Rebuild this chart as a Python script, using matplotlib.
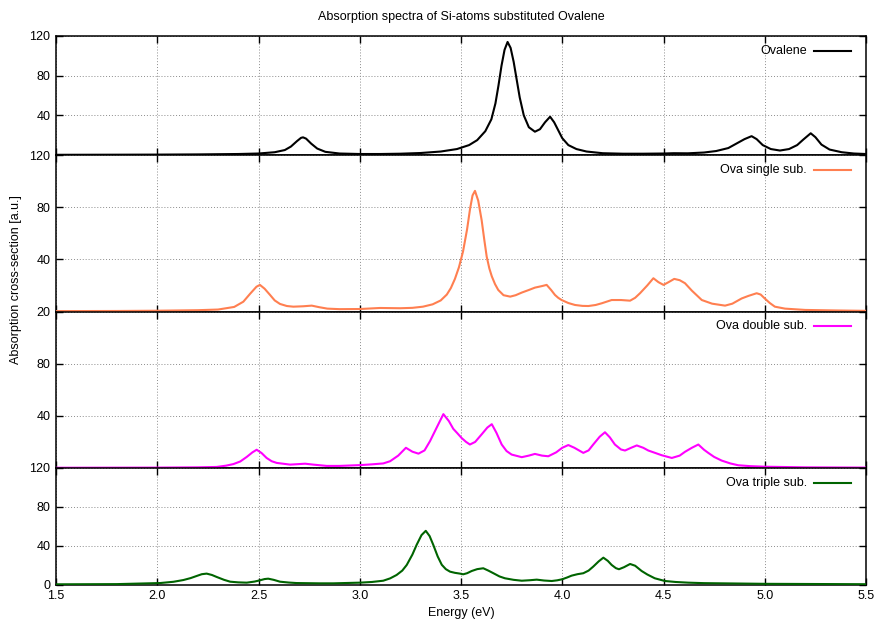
import matplotlib.pyplot as plt
from matplotlib.transforms import offset_copy

plt.rcParams['font.family'] = ['Liberation Sans', 'DejaVu Sans']
plt.rcParams['font.size'] = 9

# Ovalene
energy_ova = [1.50, 1.80, 2.00, 2.20, 2.40, 2.50, 2.58, 2.63, 2.66, 2.69, 2.71, 2.72, 2.735, 2.76,
              2.79, 2.83, 2.90, 3.00, 3.10, 3.20, 3.30, 3.40, 3.48, 3.54, 3.58, 3.62, 3.65, 3.67,
              3.685, 3.70, 3.715, 3.73, 3.745, 3.76, 3.775, 3.79, 3.81, 3.835, 3.865, 3.89, 3.915,
              3.94, 3.96, 3.98, 4.00, 4.03, 4.07, 4.12, 4.20, 4.30, 4.40, 4.50, 4.55, 4.62, 4.70,
              4.76, 4.82, 4.86, 4.90, 4.935, 4.96, 4.99, 5.03, 5.075, 5.12, 5.16, 5.19, 5.227,
              5.25, 5.28, 5.32, 5.38, 5.44, 5.50]
absorb_ova = [0.2, 0.3, 0.4, 0.6, 1.0, 1.5, 2.8, 5.0, 8.5, 14.0, 17.3, 17.8, 16.5, 11.5,
              6.5, 3.2, 1.5, 1.0, 1.0, 1.3, 2.0, 3.5, 6.0, 10, 15, 24, 36, 52,
              70, 90, 106, 114, 108, 94, 76, 58, 40, 28, 23.5, 26, 33,
              38.6, 33, 25, 17, 10, 6, 3.5, 1.8, 1.3, 1.3, 1.5, 1.8, 1.7, 2.5,
              4, 7, 11.5, 16, 19, 16, 10, 6, 4.5, 6, 10, 15.5, 21.9,
              18, 10.5, 5.5, 2.8, 1.5, 1.0]

# single substitution
energy_single = [1.50, 1.80, 2.00, 2.20, 2.30, 2.38, 2.425, 2.458, 2.49, 2.507, 2.53, 2.557, 2.58,
                 2.606, 2.64, 2.672, 2.72, 2.763, 2.80, 2.84, 2.90, 3.00, 3.05, 3.10, 3.15, 3.20,
                 3.26, 3.312, 3.36, 3.40, 3.43, 3.45, 3.47, 3.49, 3.51, 3.53, 3.545, 3.557, 3.569,
                 3.585, 3.602, 3.615, 3.627, 3.64, 3.652, 3.668, 3.684, 3.71, 3.743, 3.77, 3.80,
                 3.835, 3.865, 3.90, 3.923, 3.945, 3.964, 3.98, 3.997, 4.03, 4.063, 4.10, 4.129,
                 4.165, 4.195, 4.244, 4.29, 4.335, 4.36, 4.384, 4.42, 4.45, 4.475, 4.50, 4.525,
                 4.553, 4.58, 4.606, 4.64, 4.689, 4.74, 4.804, 4.84, 4.886, 4.92, 4.96, 4.98,
                 5.00, 5.025, 5.05, 5.10, 5.20, 5.35, 5.50]
absorb_single = [0.3, 0.4, 0.6, 1.0, 1.5, 3.5, 7.5, 13.5, 19, 20.4, 17.5, 12.7, 8.5,
                 5.8, 4.2, 3.7, 4.0, 4.5, 3.3, 2.2, 1.8, 1.9, 2.3, 2.7, 2.6, 2.5,
                 2.8, 3.7, 5.5, 8.5, 13, 18, 25, 34, 46, 63, 79, 89, 92.5,
                 85, 70, 55, 42, 33, 27, 21, 16.5, 12.5, 11.4, 12.5, 14.5,
                 16.5, 18.3, 19.5, 20.4, 16.5, 12.7, 10.5, 8.8, 6.5, 5.0, 4.3, 4.2,
                 5, 6.3, 8.8, 8.8, 8.3, 10.5, 14, 20, 25.5, 22.5, 20.4, 22.5,
                 25, 24, 21.7, 16, 8.8, 6, 4.5, 6, 10, 12, 14, 13,
                 10, 6.5, 3.7, 2.2, 1.2, 0.8, 0.5]

# double substitution
energy_double = [1.50, 2.00, 2.20, 2.293, 2.34, 2.376, 2.41, 2.442, 2.47, 2.491, 2.515, 2.54, 2.565,
                 2.59, 2.656, 2.70, 2.73, 2.77, 2.837, 2.90, 3.00, 3.06, 3.116, 3.15, 3.19, 3.228,
                 3.26, 3.29, 3.32, 3.347, 3.38, 3.413, 3.44, 3.462, 3.48, 3.503, 3.525, 3.544, 3.57,
                 3.602, 3.63, 3.652, 3.675, 3.701, 3.725, 3.75, 3.80, 3.835, 3.865, 3.90, 3.931,
                 3.97, 4.00, 4.03, 4.06, 4.104, 4.13, 4.153, 4.185, 4.211, 4.235, 4.26, 4.29, 4.31,
                 4.34, 4.368, 4.40, 4.425, 4.46, 4.491, 4.541, 4.58, 4.606, 4.64, 4.672, 4.70,
                 4.721, 4.75, 4.787, 4.83, 4.869, 4.93, 5.00, 5.20, 5.50]
absorb_double = [0.2, 0.3, 0.5, 0.8, 1.8, 3, 5, 8.5, 12, 14, 11.5, 7.7, 5.2,
                 3.9, 2.6, 3.0, 3.3, 2.6, 1.6, 1.6, 2.2, 2.8, 3.5, 5.2, 9.5, 15.5,
                 12.5, 11.0, 13.5, 20.6, 31, 41.3, 36, 30, 27, 23, 20, 18, 20,
                 25.8, 31, 33.6, 27, 18, 13, 10.3, 8.3, 9.5, 10.8, 9.5, 9,
                 12, 15.5, 17.6, 15.5, 11.6, 13.5, 18, 24, 27.4, 23.5, 18, 14.2, 13.4,
                 15.5, 17.3, 15.5, 13.4, 11.5, 9.8, 7.7, 9.5, 12.4, 15.5, 18, 14,
                 11.6, 8.5, 5.7, 3.5, 2.1, 1.4, 1.0, 0.5, 0.3]

# triple substitution
energy_triple = [1.50, 1.80, 2.014, 2.08, 2.129, 2.165, 2.195, 2.22, 2.244, 2.27, 2.293, 2.33, 2.36,
                 2.40, 2.442, 2.48, 2.507, 2.53, 2.548, 2.575, 2.606, 2.65, 2.688, 2.80, 2.869,
                 3.00, 3.06, 3.116, 3.15, 3.182, 3.21, 3.232, 3.26, 3.281, 3.305, 3.326, 3.345,
                 3.363, 3.385, 3.405, 3.425, 3.446, 3.47, 3.495, 3.511, 3.53, 3.553, 3.58, 3.61,
                 3.635, 3.66, 3.69, 3.717, 3.76, 3.80, 3.84, 3.874, 3.91, 3.948, 3.975, 4.00,
                 4.025, 4.046, 4.075, 4.104, 4.13, 4.153, 4.18, 4.203, 4.225, 4.244, 4.265, 4.28,
                 4.305, 4.335, 4.36, 4.392, 4.42, 4.457, 4.507, 4.56, 4.622, 4.70, 4.787, 5.00, 5.50]
absorb_triple = [0.4, 0.6, 1.7, 3.0, 4.8, 6.8, 9, 10.8, 11.4, 10, 8, 5, 3.1,
                 2.4, 2.1, 3.2, 4.5, 5.8, 6.2, 5, 3.1, 2.2, 1.7, 1.4, 1.4,
                 2.1, 2.8, 4.1, 6.5, 10, 14.5, 20.3, 31, 41, 51, 55.4, 50,
                 41, 29, 20.5, 16, 13.4, 12.2, 11.4, 10.7, 11.8, 14.1, 16, 16.9,
                 14.5, 11.8, 8.5, 6.6, 5, 4.1, 4.6, 5.2, 4.3, 3.8, 4.5, 5.6,
                 7.5, 9.3, 10.8, 11.8, 14.5, 18.6, 24, 27.8, 24.5, 20.3, 17, 15.9,
                 18, 21.3, 19.5, 14.1, 10.5, 6.6, 3.8, 2.8, 2.1, 1.6, 1.4, 0.9, 0.5]

energies = [energy_ova, energy_single, energy_double, energy_triple]
spectra = [absorb_ova, absorb_single, absorb_double, absorb_triple]
names = ['Ovalene', 'Ova single sub.', 'Ova double sub.', 'Ova triple sub.']
colors = ['black', '#ff7f50', '#ff00ff', '#006400']

xticks = [1.5, 2.0, 2.5, 3.0, 3.5, 4.0, 4.5, 5.0, 5.5]
xtick_labels = ['1.5', '2.0', '2.5', '3.0', '3.5', '4.0', '4.5', '5.0', '5.5']
yticks = [0, 40, 80, 120]
ytick_labels = [['', '40', '80', '120'],
                ['20', '40', '80', '120'],
                ['', '40', '80', ''],
                ['0', '40', '80', '120']]

W, H = 876, 623
left, right = 56, 866
edges = [36, 155, 311.5, 468, 584.7]

fig = plt.figure(figsize=(W / 100, H / 100), dpi=100)

for i in range(4):
    top, bot = edges[i], edges[i + 1]
    ax = fig.add_axes([left / W, 1 - bot / H, (right - left) / W, (bot - top) / H])
    ax.plot(energies[i], spectra[i], color=colors[i], lw=1.5, zorder=3,
            solid_joinstyle='round')
    ax.set_xlim(1.5, 5.5)
    ax.set_ylim(0, 120)
    ax.set_xticks(xticks)
    ax.set_yticks(yticks)
    ax.set_yticklabels(ytick_labels[i])
    if i == 3:
        ax.set_xticklabels(xtick_labels)
    else:
        ax.set_xticklabels([])
    ax.grid(True, color='#8c8c8c', ls=(0, (1, 2)), lw=0.7)
    ax.tick_params(direction='in', top=True, right=True, length=5, width=1, pad=4)
    for s in ax.spines.values():
        s.set_linewidth(1.1)

    # key in the top right corner
    tr = offset_copy(ax.transAxes, fig=fig, x=0, y=-14.7, units='dots')
    ax.text((807 - left) / (right - left), 1, names[i], transform=tr, ha='right', va='center')
    ax.plot([(814 - left) / (right - left), (851 - left) / (right - left)], [1, 1],
            transform=tr, color=colors[i], lw=1.5, clip_on=False)

fig.text((left + right) / 2 / W, 1 - 17 / H, 'Absorption spectra of Si-atoms substituted Ovalene',
         ha='center', va='center')
fig.text((left + right) / 2 / W, 1 - 613 / H, 'Energy (eV)', ha='center', va='center')
fig.text(16 / W, 1 - 279.5 / H, 'Absorption cross-section [a.u.]', rotation=90,
         ha='center', va='center')

fig.savefig('out.png', dpi=100)
